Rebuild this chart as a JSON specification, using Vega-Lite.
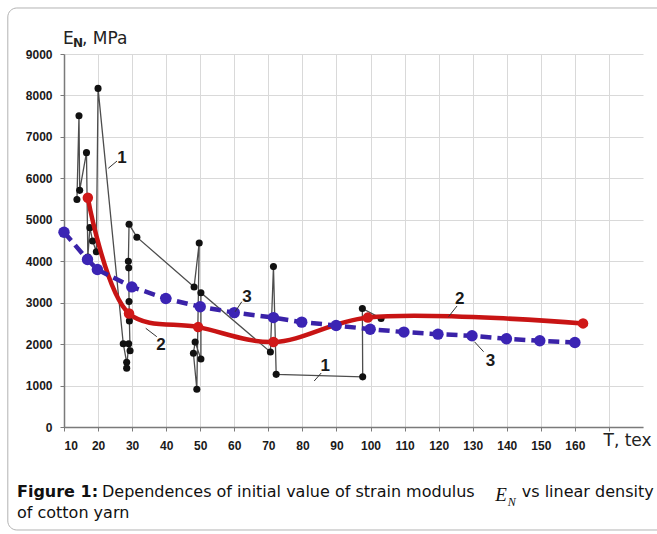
{
  "$schema": "https://vega.github.io/schema/vega-lite/v6.json",
  "width": 579,
  "height": 373,
  "autosize": {"type": "none"},
  "padding": {"left": 64, "top": 54, "right": 14, "bottom": 107},
  "background": "white",
  "config": {"view": {"stroke": null}},
  "datasets": {
    "frame": [{"T": -6.5, "T2": 200, "E": -2485, "E2": 10110}],
    "black": [
      {"i": 1, "T": 13.8, "E": 5490}, {"i": 2, "T": 14.4, "E": 7510}, {"i": 3, "T": 14.6, "E": 5710},
      {"i": 4, "T": 16.6, "E": 6620}, {"i": 5, "T": 17.0, "E": 4100}, {"i": 6, "T": 17.6, "E": 4810},
      {"i": 7, "T": 18.4, "E": 4490}, {"i": 8, "T": 19.5, "E": 4230}, {"i": 9, "T": 20.0, "E": 8170},
      {"i": 10, "T": 27.4, "E": 2010}, {"i": 11, "T": 28.4, "E": 1560}, {"i": 12, "T": 28.4, "E": 1420},
      {"i": 13, "T": 29.0, "E": 2010}, {"i": 14, "T": 29.4, "E": 1840}, {"i": 15, "T": 29.2, "E": 2560},
      {"i": 16, "T": 29.1, "E": 3030}, {"i": 17, "T": 29.0, "E": 3840}, {"i": 18, "T": 28.9, "E": 4000},
      {"i": 19, "T": 29.1, "E": 4890}, {"i": 20, "T": 31.4, "E": 4580}, {"i": 21, "T": 48.2, "E": 3380},
      {"i": 22, "T": 49.7, "E": 4440}, {"i": 23, "T": 49.0, "E": 910}, {"i": 24, "T": 48.0, "E": 1780},
      {"i": 25, "T": 48.5, "E": 2050}, {"i": 26, "T": 50.2, "E": 1640}, {"i": 27, "T": 50.2, "E": 3240},
      {"i": 28, "T": 70.6, "E": 1810}, {"i": 29, "T": 71.5, "E": 3870}, {"i": 30, "T": 72.3, "E": 1270},
      {"i": 31, "T": 97.7, "E": 1210}, {"i": 32, "T": 97.6, "E": 2860}, {"i": 33, "T": 103.1, "E": 2620}
    ],
    "red": [
      {"T": 17.0, "E": 5530}, {"T": 29.1, "E": 2740}, {"T": 49.4, "E": 2410},
      {"T": 71.5, "E": 2050}, {"T": 99.2, "E": 2640}, {"T": 162.4, "E": 2500}
    ],
    "blue": [
      {"T": 10, "E": 4700}, {"T": 16.9, "E": 4040}, {"T": 19.8, "E": 3800}, {"T": 29.9, "E": 3380},
      {"T": 39.9, "E": 3100}, {"T": 50, "E": 2900}, {"T": 60, "E": 2760}, {"T": 71.5, "E": 2640},
      {"T": 79.8, "E": 2530}, {"T": 89.9, "E": 2450}, {"T": 99.9, "E": 2360}, {"T": 109.8, "E": 2290},
      {"T": 119.8, "E": 2240}, {"T": 129.8, "E": 2200}, {"T": 139.9, "E": 2130}, {"T": 149.7, "E": 2080},
      {"T": 160, "E": 2040}
    ],
    "leaders": [
      {"T": 23.0, "E": 6242, "T2": 25.57, "E2": 6418},
      {"T": 83.46, "E": 1110, "T2": 85.52, "E2": 1303},
      {"T": 34.0, "E": 2382, "T2": 37.24, "E2": 2179},
      {"T": 122.9, "E": 2661, "T2": 125.4, "E2": 2920},
      {"T": 60.25, "E": 2782, "T2": 62.2, "E2": 3023},
      {"T": 130.5, "E": 2058, "T2": 133.2, "E2": 1817}
    ],
    "texts": [
      {"kind": "num", "T": 27.04, "E": 6370, "text": "1"},
      {"kind": "num", "T": 86.7, "E": 1363, "text": "1"},
      {"kind": "num", "T": 38.5, "E": 1868, "text": "2"},
      {"kind": "num", "T": 126.2, "E": 2968, "text": "2"},
      {"kind": "num", "T": 63.7, "E": 3016, "text": "3"},
      {"kind": "num", "T": 135.2, "E": 1465, "text": "3"},
      {"kind": "title", "T": 9.7, "E": 9241, "text": "E"},
      {"kind": "sub", "T": 12.64, "E": 9169, "text": "N"},
      {"kind": "title", "T": 15.3, "E": 9241, "text": ", MPa"},
      {"kind": "title", "T": 168.4, "E": -458, "text": "T, tex"},
      {"kind": "capbold", "T": -3.81, "E": -1696, "text": "Figure 1:"},
      {"kind": "cap", "T": 21.17, "E": -1696, "text": "Dependences of initial value of strain modulus"},
      {"kind": "capE", "T": 136.65, "E": -1790, "text": "E"},
      {"kind": "capN", "T": 140.3, "E": -1900, "text": "N"},
      {"kind": "cap", "T": 144.4, "E": -1696, "text": "vs linear density"},
      {"kind": "cap", "T": -3.81, "E": -2203, "text": "of cotton yarn"}
    ]
  },
  "encoding": {
    "x": {
      "field": "T", "type": "quantitative",
      "scale": {"domain": [10, 180], "nice": false, "zero": false},
      "axis": {
        "title": null,
        "values": [10, 20, 30, 40, 50, 60, 70, 80, 90, 100, 110, 120, 130, 140, 150, 160, 170],
        "format": "d",
        "labelExpr": "datum.value <= 160 ? datum.label : ''",
        "grid": true, "gridColor": "#d9d9d9", "gridWidth": 1,
        "domainColor": "#7a7a7a", "domainWidth": 1.5,
        "tickColor": "#7a7a7a", "tickSize": 4,
        "labelFont": "Liberation Sans", "labelFontWeight": "bold", "labelFontSize": 12,
        "labelColor": "#1a1a1a", "labelPadding": 9
      }
    },
    "y": {
      "field": "E", "type": "quantitative",
      "scale": {"domain": [0, 9000], "nice": false},
      "axis": {
        "title": null,
        "values": [0, 1000, 2000, 3000, 4000, 5000, 6000, 7000, 8000, 9000],
        "format": "d",
        "grid": true, "gridColor": "#d9d9d9", "gridWidth": 1,
        "domainColor": "#7a7a7a", "domainWidth": 1.5,
        "tickColor": "#7a7a7a", "tickSize": 4,
        "labelFont": "Liberation Sans", "labelFontWeight": "bold", "labelFontSize": 12,
        "labelColor": "#1a1a1a", "labelPadding": 8
      }
    }
  },
  "layer": [
    {
      "data": {"name": "frame"},
      "mark": {"type": "rect", "fill": null, "stroke": "#b3b3b3", "strokeWidth": 1, "cornerRadius": 9},
      "encoding": {"x2": {"field": "T2"}, "y2": {"field": "E2"}}
    },
    {
      "data": {"name": "black"},
      "mark": {"type": "line", "color": "#4d4d4d", "strokeWidth": 1.3},
      "encoding": {"order": {"field": "i", "type": "quantitative"}}
    },
    {
      "data": {"name": "black"},
      "mark": {"type": "circle", "color": "#111111", "opacity": 1, "size": 50},
      "encoding": {}
    },
    {
      "data": {"name": "red"},
      "mark": {"type": "line", "color": "#c81414", "strokeWidth": 4.5, "interpolate": "catmull-rom"},
      "encoding": {}
    },
    {
      "data": {"name": "red"},
      "mark": {"type": "circle", "color": "#d01818", "opacity": 1, "size": 110},
      "encoding": {}
    },
    {
      "data": {"name": "blue"},
      "mark": {"type": "line", "color": "#3a22a8", "strokeWidth": 4.5, "strokeDash": [11, 6]},
      "encoding": {}
    },
    {
      "data": {"name": "blue"},
      "mark": {"type": "circle", "color": "#3b24b4", "opacity": 1, "size": 130},
      "encoding": {}
    },
    {
      "data": {"name": "leaders"},
      "mark": {"type": "rule", "color": "#333333", "strokeWidth": 1},
      "encoding": {"x2": {"field": "T2"}, "y2": {"field": "E2"}}
    },
    {
      "data": {"name": "texts"},
      "transform": [{"filter": "datum.kind === 'num'"}],
      "mark": {"type": "text", "font": "Liberation Sans", "fontWeight": "bold", "fontSize": 17, "align": "center", "baseline": "alphabetic", "color": "#1a1a1a"},
      "encoding": {"text": {"field": "text"}}
    },
    {
      "data": {"name": "texts"},
      "transform": [{"filter": "datum.kind === 'title'"}],
      "mark": {"type": "text", "font": "DejaVu Sans", "fontSize": 17, "align": "left", "baseline": "alphabetic", "color": "#222222"},
      "encoding": {"text": {"field": "text"}}
    },
    {
      "data": {"name": "texts"},
      "transform": [{"filter": "datum.kind === 'sub'"}],
      "mark": {"type": "text", "font": "DejaVu Sans", "fontWeight": "bold", "fontSize": 12, "align": "left", "baseline": "alphabetic", "color": "#222222"},
      "encoding": {"text": {"field": "text"}}
    },
    {
      "data": {"name": "texts"},
      "transform": [{"filter": "datum.kind === 'capbold'"}],
      "mark": {"type": "text", "font": "DejaVu Sans", "fontWeight": "bold", "fontSize": 16, "align": "left", "baseline": "alphabetic", "color": "#111111"},
      "encoding": {"text": {"field": "text"}}
    },
    {
      "data": {"name": "texts"},
      "transform": [{"filter": "datum.kind === 'cap'"}],
      "mark": {"type": "text", "font": "DejaVu Sans", "fontSize": 16, "align": "left", "baseline": "alphabetic", "color": "#111111"},
      "encoding": {"text": {"field": "text"}}
    },
    {
      "data": {"name": "texts"},
      "transform": [{"filter": "datum.kind === 'capE'"}],
      "mark": {"type": "text", "font": "Liberation Serif", "fontStyle": "italic", "fontSize": 19, "align": "left", "baseline": "alphabetic", "color": "#111111"},
      "encoding": {"text": {"field": "text"}}
    },
    {
      "data": {"name": "texts"},
      "transform": [{"filter": "datum.kind === 'capN'"}],
      "mark": {"type": "text", "font": "Liberation Serif", "fontStyle": "italic", "fontSize": 12, "align": "left", "baseline": "alphabetic", "color": "#111111"},
      "encoding": {"text": {"field": "text"}}
    }
  ]
}
